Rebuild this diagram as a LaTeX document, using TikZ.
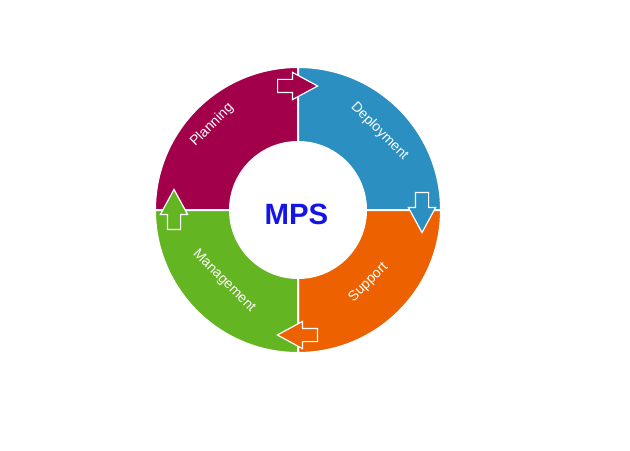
\documentclass[tikz,border=0pt]{standalone}
\usepackage{fontspec}
\setmainfont{Liberation Sans}
\usepackage{tikz}
\usetikzlibrary{shapes.arrows, calc}
\definecolor{mymaroon}{RGB}{163,0,76}
\definecolor{myblue}{RGB}{43,143,193}
\definecolor{myorange}{RGB}{238,97,0}
\definecolor{mygreen}{RGB}{99,181,33}
\definecolor{mytitle}{RGB}{20,20,230}
\tikzset{
  segment/.style={draw=white, line width=1.5pt},
  seglabel/.style={font=\fontsize{10.5}{12}\selectfont, text=white,
    inner sep=0pt},
  cyclearrow/.style={single arrow, draw=white, line width=0.9pt,
    inner xsep=0pt, inner ysep=4.5pt, minimum width=0pt,
    minimum height=30pt, single arrow head extend=5.25pt,
    single arrow tip angle=57, anchor=tail},
  title/.style={font=\fontsize{22}{26}\selectfont\bfseries, text=mytitle}
}

\begin{document}
\begin{tikzpicture}[x=0.75pt, y=0.75pt]
  \useasboundingbox (0,0) rectangle (630,450);
  \coordinate (c) at (298,240);

  % Ring segments
  \filldraw[segment, fill=mymaroon] ($(c)+(90:143)$) arc[start angle=90, end angle=180, radius=143]
    -- ($(c)+(180:68)$) arc[start angle=180, end angle=90, radius=68] -- cycle;
  \filldraw[segment, fill=myblue] ($(c)+(0:143)$) arc[start angle=0, end angle=90, radius=143]
    -- ($(c)+(90:68)$) arc[start angle=90, end angle=0, radius=68] -- cycle;
  \filldraw[segment, fill=myorange] ($(c)+(270:143)$) arc[start angle=270, end angle=360, radius=143]
    -- ($(c)+(0:68)$) arc[start angle=0, end angle=-90, radius=68] -- cycle;
  \filldraw[segment, fill=mygreen] ($(c)+(180:143)$) arc[start angle=180, end angle=270, radius=143]
    -- ($(c)+(270:68)$) arc[start angle=270, end angle=180, radius=68] -- cycle;

  % Centre
  \node[title] (mps) at (296.5,236) {MPS};

  % Segment labels
  \node[seglabel, rotate=45] (plan) at (212,325) {Planning};
  \node[seglabel, rotate=-45] (depl) at (379.5,318.5) {Deployment};
  \node[seglabel, rotate=45] (supp) at (368.5,167.5) {Support};
  \node[seglabel, rotate=-45] (mgmt) at (224,169) {Management};

  % Arrows between segments (placed by their tails)
  \node[cyclearrow, fill=mymaroon] (arrpd) at (277,364) {};
  \node[cyclearrow, fill=myblue, rotate=-90] (arrds) at (422,258) {};
  \node[cyclearrow, fill=myorange, rotate=180] (arrsm) at (318,115) {};
  \node[cyclearrow, fill=mygreen, rotate=90] (arrmp) at (174,220) {};
\end{tikzpicture}
\end{document}
